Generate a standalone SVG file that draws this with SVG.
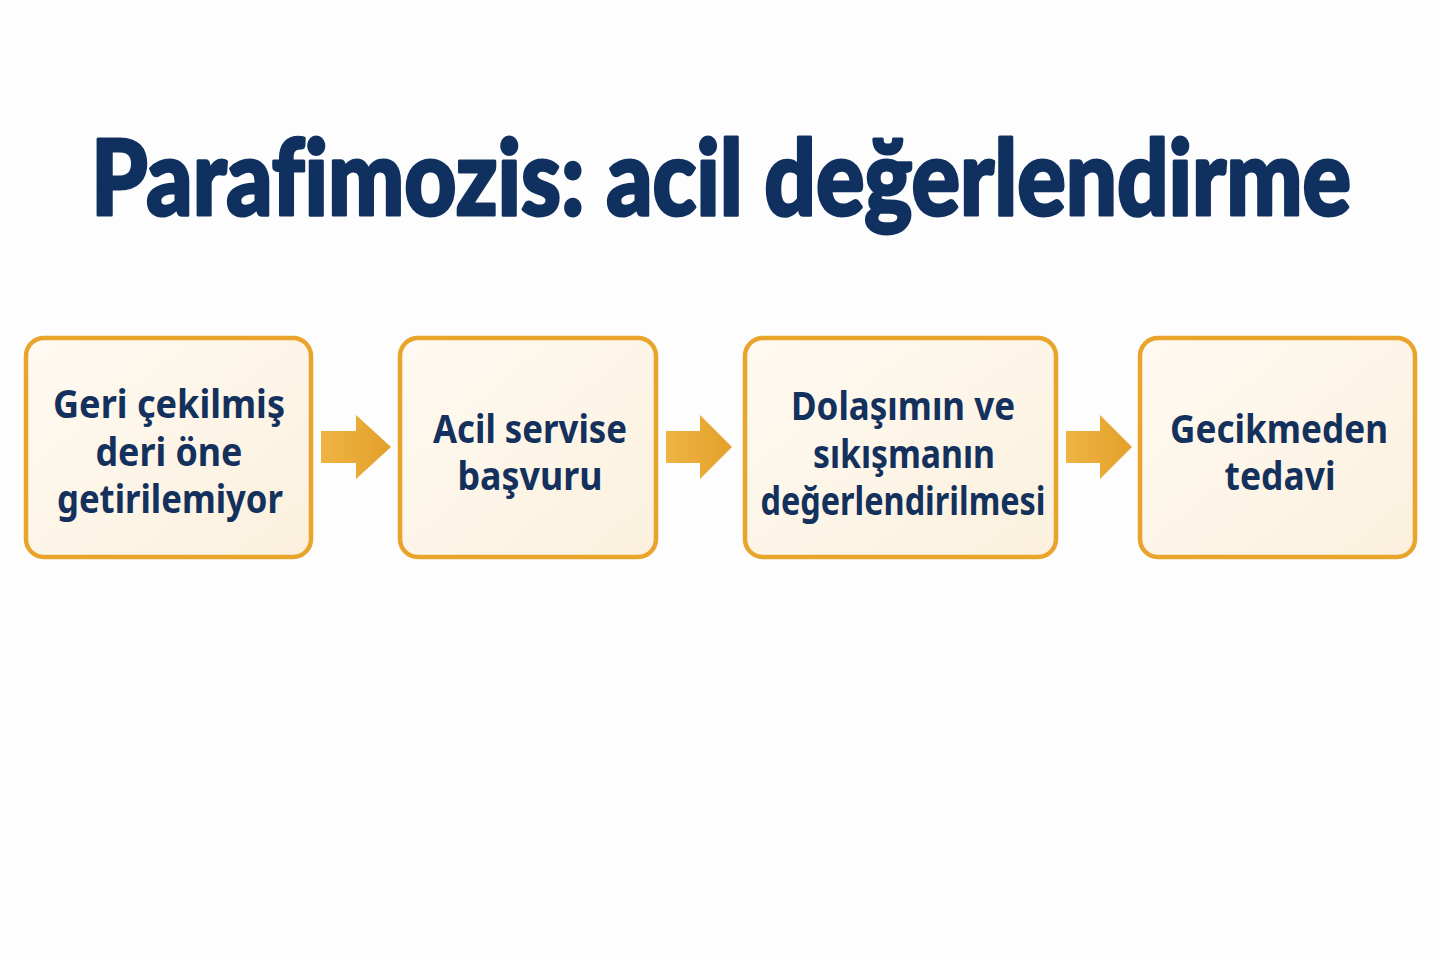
<svg xmlns="http://www.w3.org/2000/svg" width="1440" height="960" viewBox="0 0 1440 960">
<defs>
<linearGradient id="boxFill" x1="0" y1="0" x2="1" y2="1">
<stop offset="0" stop-color="#fefaf2"/>
<stop offset="1" stop-color="#fbf0dd"/>
</linearGradient>
<linearGradient id="arrowFill" x1="0" y1="0" x2="1" y2="0">
<stop offset="0" stop-color="#efb443"/>
<stop offset="1" stop-color="#e3a02a"/>
</linearGradient>
<style>
.box{fill:url(#boxFill);stroke:#e8a42b;stroke-width:4.5}
.lbl{font-family:"Noto Sans","Open Sans","DejaVu Sans",sans-serif;font-weight:700;font-size:39px;fill:#13315c;text-anchor:middle}
.title{font-family:Lato,"Noto Sans","DejaVu Sans",sans-serif;font-weight:900;font-size:104px;fill:#10305f;stroke:#10305f;stroke-width:3;stroke-linejoin:round;font-variant-ligatures:none}
.arrow{fill:url(#arrowFill)}
</style>
</defs>
<rect width="1440" height="960" fill="#fdfdfd"/>
<text class="title" x="91" y="215" textLength="1260" lengthAdjust="spacingAndGlyphs">Parafimozis: acil değerlendirme</text>
<g id="connectors">
<polygon class="arrow" points="321,431 356,431 356,415 391,447 356,479 356,463 321,463"/>
<polygon class="arrow" points="666,431 700,431 700,415 732,447 700,479 700,463 666,463"/>
<polygon class="arrow" points="1066,431 1100,431 1100,415 1132,447 1100,479 1100,463 1066,463"/>
</g>
<g id="node1">
<rect class="box" x="26" y="338" width="285" height="219" rx="18"/>
<text class="lbl" x="169" y="418" textLength="232" lengthAdjust="spacingAndGlyphs">Geri çekilmiş</text>
<text class="lbl" x="169" y="466" textLength="147" lengthAdjust="spacingAndGlyphs">deri öne</text>
<text class="lbl" x="170" y="513" textLength="226" lengthAdjust="spacingAndGlyphs">getirilemiyor</text>
</g>
<g id="node2">
<rect class="box" x="400" y="338" width="256" height="219" rx="18"/>
<text class="lbl" x="530" y="443" textLength="194" lengthAdjust="spacingAndGlyphs">Acil servise</text>
<text class="lbl" x="530" y="490" textLength="145" lengthAdjust="spacingAndGlyphs">başvuru</text>
</g>
<g id="node3">
<rect class="box" x="745" y="338" width="311" height="219" rx="18"/>
<text class="lbl" x="903" y="420" textLength="224" lengthAdjust="spacingAndGlyphs">Dolaşımın ve</text>
<text class="lbl" x="904" y="468" textLength="182" lengthAdjust="spacingAndGlyphs">sıkışmanın</text>
<text class="lbl" x="903" y="515" textLength="285" lengthAdjust="spacingAndGlyphs">değerlendirilmesi</text>
</g>
<g id="node4">
<rect class="box" x="1140" y="338" width="275" height="219" rx="18"/>
<text class="lbl" x="1279" y="443" textLength="218" lengthAdjust="spacingAndGlyphs">Gecikmeden</text>
<text class="lbl" x="1280" y="490" textLength="111" lengthAdjust="spacingAndGlyphs">tedavi</text>
</g>
</svg>
